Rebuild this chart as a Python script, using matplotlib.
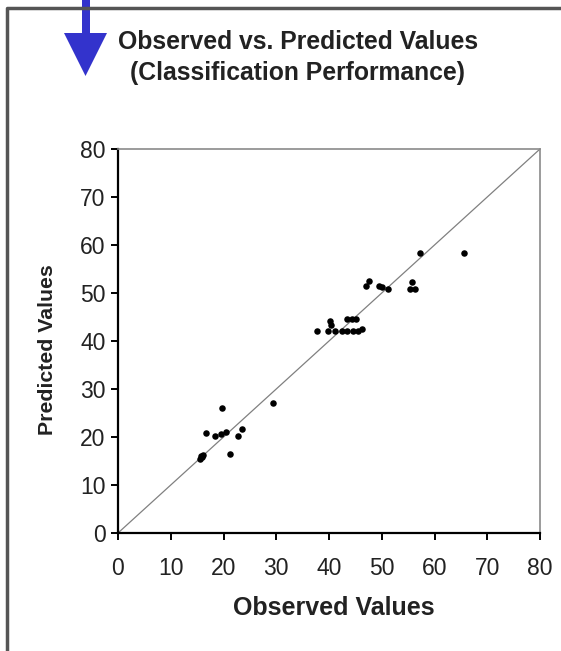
import matplotlib
matplotlib.use("Agg")
import matplotlib.pyplot as plt
from matplotlib.patches import Polygon, Rectangle
from matplotlib.lines import Line2D

plt.rcParams['font.family'] = ['Liberation Sans', 'DejaVu Sans']

observed = [15.5, 15.8, 16.2, 16.0, 16.7, 18.4, 19.6, 20.4, 19.8, 21.2, 22.7, 23.6, 29.3,
            37.7, 40.1, 40.3, 39.8, 41.2, 42.4, 43.5, 44.5, 45.5, 43.4, 44.3, 45.2, 46.3,
            47.6, 47.1, 49.4, 50.0, 51.2, 55.7, 55.4, 56.3, 57.2, 65.5]
predicted = [15.5, 16.0, 16.2, 15.8, 20.8, 20.2, 20.6, 21.0, 26.1, 16.4, 20.2, 21.6, 27.1,
             42.0, 44.1, 43.3, 42.0, 42.0, 42.0, 42.0, 42.0, 42.0, 44.5, 44.5, 44.5, 42.4,
             52.4, 51.5, 51.4, 51.3, 50.8, 52.2, 50.8, 50.8, 58.3, 58.3]
ticks = [0, 10, 20, 30, 40, 50, 60, 70, 80]
diag = [0, 80]

W, H = 561, 651
fig = plt.figure(figsize=(W / 100, H / 100), dpi=100)
fig.patch.set_facecolor('white')

def fx(px):
    return px / W

def fy(py):
    return 1 - py / H

ax = fig.add_axes([fx(118), fy(533), fx(540) - fx(118), fy(149) - fy(533)])
ax.set_xlim(0, 80)
ax.set_ylim(0, 80)
ax.plot(diag, diag, color='#808080', lw=0.9, zorder=1)
ax.scatter(observed, predicted, s=22, color='black', zorder=3, linewidths=0)

ax.set_xticks(ticks)
ax.set_yticks(ticks)
ax.tick_params(axis='both', direction='out', length=5, width=1.4, labelsize=16.5,
               colors='black', labelcolor='#222222', pad=4)
ax.tick_params(axis='x', pad=12)
for s in ['left', 'bottom']:
    ax.spines[s].set_color('black')
    ax.spines[s].set_linewidth(1.6)
for s in ['top', 'right']:
    ax.spines[s].set_color('#8a8a8a')
    ax.spines[s].set_linewidth(1.2)

fig.text(fx(334), fy(608), 'Observed Values', ha='center', va='center',
         fontsize=18, fontweight='bold', color='#222222')
fig.text(fx(48), fy(350), 'Predicted Values', ha='center', va='center', rotation=90,
         fontsize=15.3, fontweight='bold', color='#222222')
fig.text(fx(298), fy(42), 'Observed vs. Predicted Values', ha='center', va='center',
         fontsize=17.8, fontweight='bold', color='#222222')
fig.text(fx(298), fy(73), '(Classification Performance)', ha='center', va='center',
         fontsize=17.8, fontweight='bold', color='#222222')

# frame border
fig.add_artist(Line2D([fx(7), fx(7), fx(561)], [fy(651), fy(8), fy(8)],
                      transform=fig.transFigure, color='#555555', lw=2.5))

# blue arrow
blue = '#3333cc'
fig.add_artist(Rectangle((fx(82), fy(34)), fx(8), fy(0) - fy(34),
                         transform=fig.transFigure, color=blue, lw=0))
fig.add_artist(Polygon([[fx(64), fy(33)], [fx(107), fy(33)], [fx(85.5), fy(76)]],
                       closed=True, transform=fig.transFigure, color=blue, lw=0))

fig.savefig('out.png', dpi=100)
